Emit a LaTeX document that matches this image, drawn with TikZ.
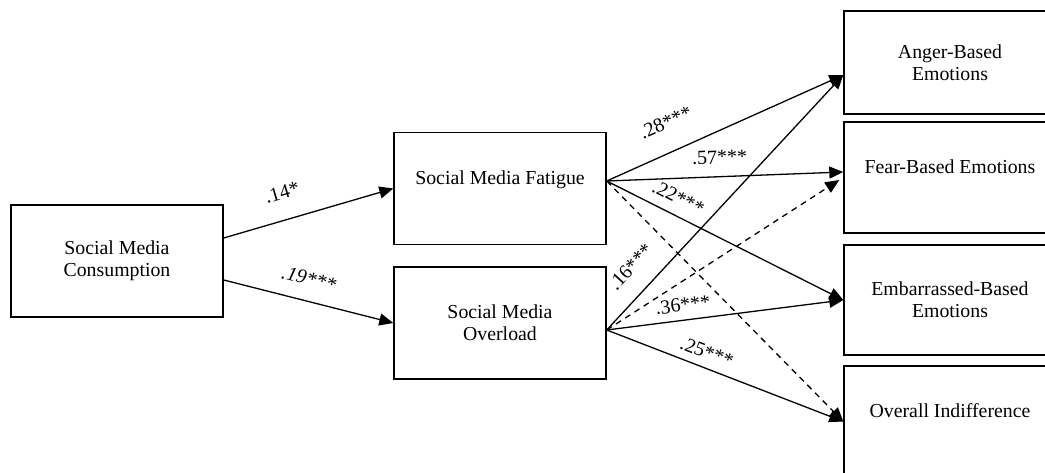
\documentclass[tikz,border=0pt]{standalone}
\usepackage{fontspec}
\setmainfont{Liberation Serif}
\usetikzlibrary{arrows.meta}

\begin{document}
\begin{tikzpicture}[x=0.5pt,y=0.5pt,
  box/.style={draw,line width=0.7pt,minimum width=106pt,minimum height=56pt,inner sep=0pt,align=center,font=\fontsize{9.9}{11}\selectfont},
  arr/.style={line width=0.65pt,-{Triangle[length=7pt,width=6pt]}},
  darr/.style={arr,dash pattern=on 3pt off 2.5pt},
  coef/.style={sloped,inner sep=1pt,font=\fontsize{10}{12}\selectfont}]
  \useasboundingbox (0,0) rectangle (1045,472);
  \clip (0,0) rectangle (1045,472);
  % boxes, right column runs off the page
  \node[box] (cons) at (117,211) {Social Media\\Consumption};
  \node[box] (fat) at (500,283.5) {Social Media Fatigue\\\mbox{}};
  \node[box] (ovl) at (500,149) {Social Media\\Overload};
  \node[box,minimum height=51.5pt] (anger) at (950,409.5) {Anger-Based\\Emotions};
  \node[box,minimum height=55.5pt] (fear) at (950,294.5) {Fear-Based Emotions\\\mbox{}};
  \node[box,minimum height=55pt] (emb) at (950,172) {Embarrassed-Based\\Emotions};
  \node[box,minimum height=55.5pt] (ind) at (950,50.5) {Overall Indifference\\\mbox{}};
  % ports
  \coordinate (consA) at ([yshift=11.5pt]cons.east);
  \coordinate (consB) at ([yshift=-9.5pt]cons.east);
  \coordinate (fatR) at ([yshift=3.75pt]fat.east);
  \coordinate (ovlR) at ([yshift=-3.5pt]ovl.east);
  \coordinate (angerL) at ([yshift=-6.25pt]anger.west);
  \coordinate (fearA) at ([yshift=2.75pt]fear.west);
  \coordinate (fearB) at ([xshift=-2pt,yshift=-1.25pt]fear.west);
  \draw[arr] (consA) -- node[coef,pos=0.39,above=9pt] {.14*} (fat.west);
  \draw[arr] (consB) -- node[coef,pos=0.47,above=6.5pt] {\itshape .19***} (ovl.west);
  \draw[arr] (fatR) -- node[coef,pos=0.30,above=10pt] {.28***} (angerL);
  \draw[arr] (fatR) -- node[coef,pos=0.48,above=5pt] {.57***} (fearA);
  \draw[arr] (fatR) -- node[coef,pos=0.27,above=4pt] {.22***} (emb.west);
  \draw[darr] (fatR) -- (ind.west);
  \draw[arr] (ovlR) -- node[coef,pos=0.18,above=8pt] {.16***} (angerL);
  \draw[darr] (ovlR) -- (fearB);
  \draw[arr] (ovlR) -- node[coef,pos=0.33,above=3pt] {.36***} (emb.west);
  \draw[arr] (ovlR) -- node[coef,pos=0.40,above=3pt] {.25***} (ind.west);
\end{tikzpicture}
\end{document}
